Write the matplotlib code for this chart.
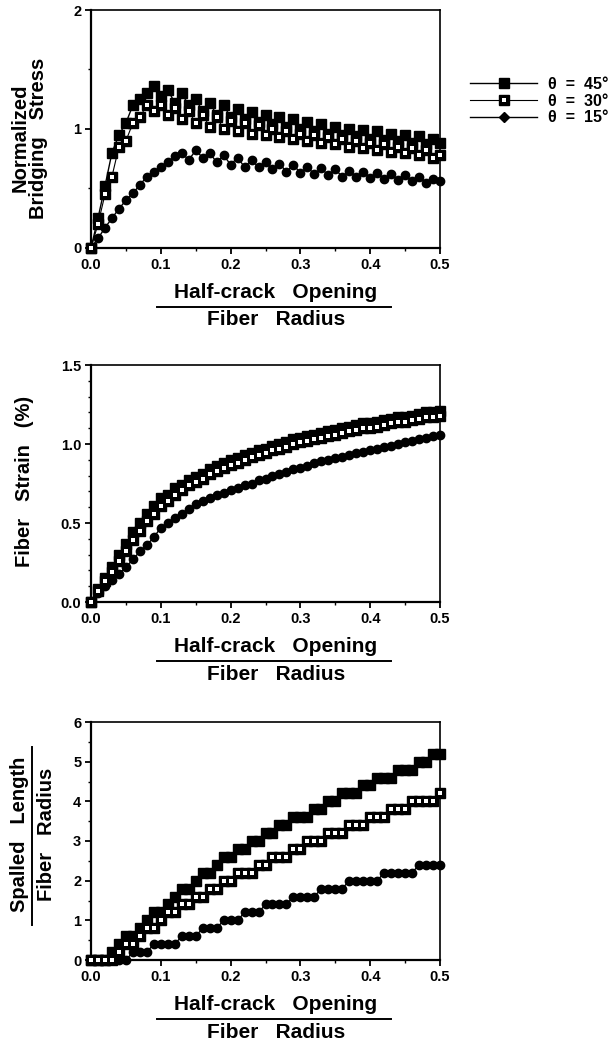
import numpy as np
import matplotlib
matplotlib.use('Agg')
import matplotlib.pyplot as plt
from matplotlib.lines import Line2D

plt.rcParams['font.family'] = ['Liberation Sans', 'DejaVu Sans']
plt.rcParams['font.weight'] = 'bold'

# x: half-crack opening / fiber radius
x = np.linspace(0, 0.5, 51)

# normalized bridging stress
stress_45 = [0, 0.25, 0.52, 0.8, 0.95, 1.05, 1.2, 1.25, 1.3, 1.36, 1.28, 1.33, 1.22, 1.3, 1.2, 1.25, 1.15,
             1.22, 1.12, 1.2, 1.1, 1.17, 1.08, 1.14, 1.06, 1.12, 1.04, 1.1, 1.02, 1.08, 1.0, 1.06, 0.98,
             1.04, 0.96, 1.02, 0.95, 1.0, 0.94, 0.99, 0.92, 0.98, 0.91, 0.96, 0.9, 0.95, 0.88, 0.94, 0.87,
             0.92, 0.88]
stress_30 = [0, 0.2, 0.45, 0.6, 0.85, 0.9, 1.05, 1.1, 1.2, 1.15, 1.2, 1.12, 1.18, 1.08, 1.15, 1.05, 1.12,
             1.02, 1.1, 1.0, 1.07, 0.98, 1.05, 0.96, 1.03, 0.95, 1.0, 0.93, 0.98, 0.92, 0.96, 0.9, 0.95,
             0.88, 0.93, 0.87, 0.92, 0.85, 0.9, 0.84, 0.88, 0.82, 0.87, 0.81, 0.85, 0.8, 0.84, 0.78, 0.82,
             0.76, 0.78]
stress_15 = [0, 0.08, 0.17, 0.25, 0.33, 0.4, 0.46, 0.53, 0.6, 0.64, 0.68, 0.72, 0.77, 0.8, 0.74, 0.82, 0.76,
             0.8, 0.72, 0.78, 0.7, 0.76, 0.68, 0.74, 0.68, 0.72, 0.66, 0.71, 0.64, 0.7, 0.63, 0.68, 0.62,
             0.67, 0.61, 0.66, 0.6, 0.65, 0.6, 0.64, 0.59, 0.63, 0.58, 0.62, 0.57, 0.61, 0.56, 0.6, 0.55,
             0.58, 0.56]

# fiber strain (%)
strain_45 = [0, 0.08, 0.15, 0.22, 0.3, 0.37, 0.44, 0.5, 0.56, 0.61, 0.66, 0.68, 0.72, 0.74, 0.77, 0.79, 0.81,
             0.84, 0.86, 0.88, 0.9, 0.91, 0.93, 0.94, 0.96, 0.97, 0.99, 1.0, 1.01, 1.03, 1.04, 1.05, 1.06,
             1.07, 1.08, 1.09, 1.1, 1.11, 1.12, 1.13, 1.13, 1.14, 1.15, 1.16, 1.17, 1.17, 1.18, 1.19, 1.2,
             1.2, 1.21]
strain_30 = [0, 0.07, 0.13, 0.19, 0.26, 0.32, 0.39, 0.45, 0.51, 0.56, 0.61, 0.64, 0.68, 0.71, 0.74, 0.76, 0.78,
             0.81, 0.83, 0.85, 0.87, 0.88, 0.9, 0.92, 0.93, 0.94, 0.96, 0.97, 0.98, 1.0, 1.01, 1.02, 1.03,
             1.04, 1.05, 1.06, 1.07, 1.08, 1.09, 1.1, 1.1, 1.11, 1.12, 1.13, 1.14, 1.14, 1.15, 1.16, 1.17,
             1.17, 1.18]
strain_15 = [0, 0.06, 0.1, 0.14, 0.18, 0.22, 0.27, 0.32, 0.36, 0.41, 0.47, 0.5, 0.53, 0.56, 0.59, 0.62, 0.64,
             0.66, 0.68, 0.69, 0.71, 0.72, 0.74, 0.75, 0.77, 0.78, 0.8, 0.81, 0.82, 0.84, 0.85, 0.86, 0.88,
             0.89, 0.9, 0.91, 0.92, 0.93, 0.94, 0.95, 0.96, 0.97, 0.98, 0.99, 1.0, 1.01, 1.02, 1.03, 1.04,
             1.05, 1.06]

# spalled length / fiber radius
spall_45 = [0, 0, 0, 0.2, 0.4, 0.6, 0.6, 0.8, 1.0, 1.2, 1.2, 1.4, 1.6, 1.8, 1.8, 2.0, 2.2, 2.2, 2.4, 2.6, 2.6,
            2.8, 2.8, 3.0, 3.0, 3.2, 3.2, 3.4, 3.4, 3.6, 3.6, 3.6, 3.8, 3.8, 4.0, 4.0, 4.2, 4.2, 4.2, 4.4,
            4.4, 4.6, 4.6, 4.6, 4.8, 4.8, 4.8, 5.0, 5.0, 5.2, 5.2]
spall_30 = [0, 0, 0, 0, 0.2, 0.4, 0.4, 0.6, 0.8, 0.8, 1.0, 1.2, 1.2, 1.4, 1.4, 1.6, 1.6, 1.8, 1.8, 2.0, 2.0,
            2.2, 2.2, 2.2, 2.4, 2.4, 2.6, 2.6, 2.6, 2.8, 2.8, 3.0, 3.0, 3.0, 3.2, 3.2, 3.2, 3.4, 3.4, 3.4,
            3.6, 3.6, 3.6, 3.8, 3.8, 3.8, 4.0, 4.0, 4.0, 4.0, 4.2]
spall_15 = [0, 0, 0, 0, 0, 0, 0.2, 0.2, 0.2, 0.4, 0.4, 0.4, 0.4, 0.6, 0.6, 0.6, 0.8, 0.8, 0.8, 1.0, 1.0,
            1.0, 1.2, 1.2, 1.2, 1.4, 1.4, 1.4, 1.4, 1.6, 1.6, 1.6, 1.6, 1.8, 1.8, 1.8, 1.8, 2.0, 2.0, 2.0,
            2.0, 2.0, 2.2, 2.2, 2.2, 2.2, 2.2, 2.4, 2.4, 2.4, 2.4]

labels = ['θ  =  45°', 'θ  =  30°', 'θ  =  15°']

W, H = 613, 1042
fig = plt.figure(figsize=(W / 100, H / 100), dpi=100)


def draw_series(ax, y45, y30, y15):
    ax.plot(x, y45, 's-', color='black', ms=7.5, lw=1, clip_on=False, zorder=3)
    ax.plot(x, y30, 's-', color='black', ms=7, lw=0.8, clip_on=False, zorder=4)
    ax.plot(x, y30, 's', color='white', ms=2.2, mew=0, clip_on=False, zorder=5)
    ax.plot(x, y15, 'o-', color='black', ms=6, lw=1, clip_on=False, zorder=4)


def style_axes(ax, ymax, ymajor, yminor, yfmt):
    ax.set_xlim(0, 0.5)
    ax.set_ylim(0, ymax)
    ax.set_xticks(np.arange(0, 0.51, 0.1))
    ax.set_xticks(np.arange(0.05, 0.5, 0.1), minor=True)
    ax.set_xticklabels(['0.0', '0.1', '0.2', '0.3', '0.4', '0.5'])
    ax.set_yticks(ymajor)
    ax.set_yticks(yminor, minor=True)
    ax.set_yticklabels([yfmt.format(v) for v in ymajor])
    ax.tick_params(which='major', direction='out', length=4, width=1.3, labelsize=10.5, pad=3)
    ax.tick_params(which='minor', direction='out', length=2.5, width=1)
    for s in ['left', 'bottom']:
        ax.spines[s].set_linewidth(1.6)
    for s in ['top', 'right']:
        ax.spines[s].set_linewidth(1.2)
    for lab in ax.get_xticklabels() + ax.get_yticklabels():
        lab.set_fontweight('bold')

    # fraction-style x label
    h = ax.get_position().height * H
    ax.text(0.53, -45 / h, 'Half-crack   Opening', transform=ax.transAxes, ha='center', va='center',
            fontsize=15, fontweight='bold')
    ax.plot([0.19, 0.86], [-59 / h, -59 / h], color='black', lw=1.4, transform=ax.transAxes, clip_on=False)
    ax.text(0.53, -72 / h, 'Fiber   Radius', transform=ax.transAxes, ha='center', va='center',
            fontsize=15, fontweight='bold')


left = 91 / W
width = 349 / W

# top: normalized bridging stress
ax1 = fig.add_axes([left, 1 - 248 / H, width, 238 / H])
draw_series(ax1, stress_45, stress_30, stress_15)
style_axes(ax1, 2, [0, 1, 2], [0.5, 1.5], '{:.0f}')
fig.text(29 / W, 1 - 138 / H, 'Normalized\nBridging   Stress', rotation=90, ha='center', va='center',
         fontsize=14.5, fontweight='bold', linespacing=0.95)

# middle: fiber strain
ax2 = fig.add_axes([left, 1 - 602 / H, width, 237 / H])
draw_series(ax2, strain_45, strain_30, strain_15)
style_axes(ax2, 1.5, [0, 0.5, 1.0, 1.5], np.arange(0.1, 1.5, 0.1), '{:.1f}')
fig.text(25 / W, 1 - 481 / H, 'Fiber   Strain   (%)', rotation=90, ha='center', va='center',
         fontsize=14.5, fontweight='bold')

# bottom: spalled length
ax3 = fig.add_axes([left, 1 - 960 / H, width, 238 / H])
draw_series(ax3, spall_45, spall_30, spall_15)
style_axes(ax3, 6, [0, 1, 2, 3, 4, 5, 6], np.arange(0.5, 6, 1.0), '{:.0f}')
fig.text(20 / W, 1 - 834 / H, 'Spalled   Length', rotation=90, ha='center', va='center',
         fontsize=14.5, fontweight='bold')
fig.add_artist(Line2D([32 / W, 32 / W], [1 - 925 / H, 1 - 747 / H], color='black', lw=1.4))
fig.text(47 / W, 1 - 834 / H, 'Fiber   Radius', rotation=90, ha='center', va='center',
         fontsize=14.5, fontweight='bold')

# legend
h45 = Line2D([], [], color='black', marker='s', ms=7, lw=1)
h30a = Line2D([], [], color='black', marker='s', ms=6.5, lw=0.8)
h30b = Line2D([], [], color='white', marker='s', ms=2.2, mew=0, lw=0)
h15 = Line2D([], [], color='black', marker='D', ms=5, lw=1)
fig.legend([h45, (h30a, h30b), h15], labels, loc='upper left', bbox_to_anchor=(470 / W, 1 - 77 / H),
           frameon=False, fontsize=11.5, handlelength=4.2, handletextpad=0.7, labelspacing=0.1,
           borderpad=0, borderaxespad=0)

fig.savefig('out.png', dpi=100)
